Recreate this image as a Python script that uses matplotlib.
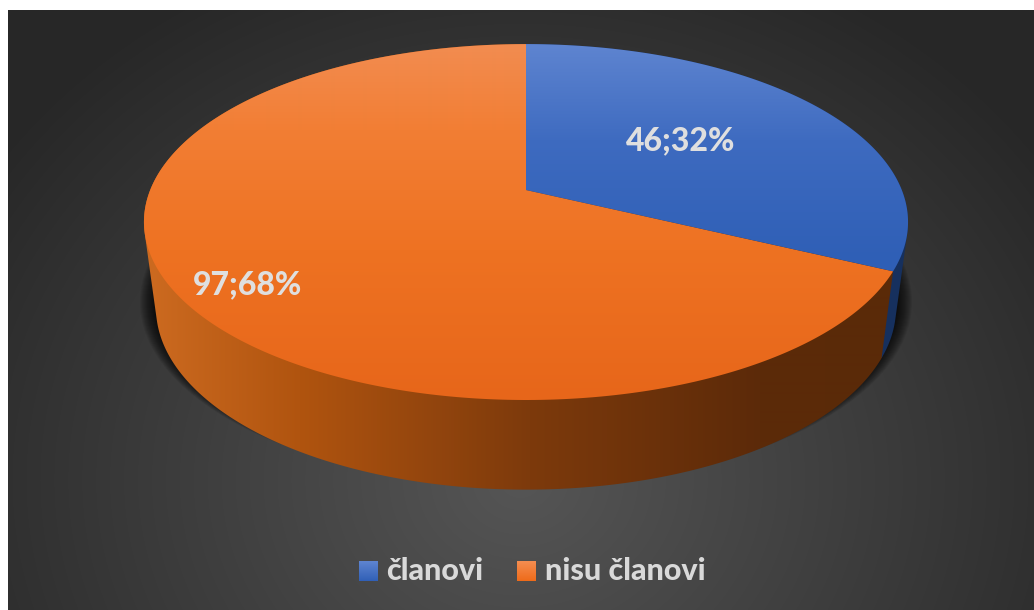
import numpy as np
import matplotlib
matplotlib.use('Agg')
import matplotlib.pyplot as plt
from matplotlib.patches import Polygon, Ellipse, Rectangle

categories = ['članovi', 'nisu članovi']
values = [46, 97]

W, H = 1034, 610
bg_left, bg_top = 8, 10
extent = (0, W, H, 0)


def rim(theta, cx, cy, a, b, k):
    # perspective circle, theta clockwise from top, (cx, cy) is where the centre lands
    u, v = np.sin(theta), np.cos(theta)
    d = 1 + k * v
    return cx + b * u / d, cy - a * v / d


def top_rim(theta):
    return rim(theta, 526, 190, 172.2, 375.8, 0.18)


def low_rim(theta):
    return rim(theta, 526, 275, 176, 364, 0.18)


def rgb(h):
    return matplotlib.colors.to_rgb(h)


def vgrad(stops):
    ys, cols = zip(*stops)
    cols = np.array([rgb(c) for c in cols])
    col = np.stack([np.interp(np.arange(H), ys, cols[:, i]) for i in range(3)], axis=1)
    return col[:, None, :]


def hgrad(stops):
    xs, cols = zip(*stops)
    cols = np.array([rgb(c) for c in cols])
    row = np.stack([np.interp(np.arange(W), xs, cols[:, i]) for i in range(3)], axis=1)
    return row[None, :, :]


def fill(ax, img, xy, z):
    poly = Polygon(xy, closed=True, fc='none', ec='none', zorder=z)
    ax.add_patch(poly)
    im = ax.imshow(img, extent=extent, aspect='auto', zorder=z, interpolation='bilinear')
    im.set_clip_path(poly)


def hull(pts):
    # monotone chain, the wall has to cover the tangent between both rims
    pts = sorted(set(map(tuple, np.round(pts, 3))))

    def half(seq):
        out = []
        for p in seq:
            while len(out) > 1 and ((out[-1][0] - out[-2][0]) * (p[1] - out[-2][1])
                                    - (out[-1][1] - out[-2][1]) * (p[0] - out[-2][0])) <= 0:
                out.pop()
            out.append(p)
        return out[:-1]

    return np.array(half(pts) + half(pts[::-1]))


fig = plt.figure(figsize=(W / 100, H / 100), dpi=100, facecolor='white')
ax = fig.add_axes([0, 0, 1, 1])
ax.set_xlim(0, W)
ax.set_ylim(H, 0)
ax.axis('off')

# radial background
yy, xx = np.mgrid[0:H, 0:W]
dist = np.sqrt(((xx - 520) / 640.0) ** 2 + ((yy - 480) / 560.0) ** 2)
shade = np.clip(0.335 - 0.18 * dist, 0.155, 1)
bg = ax.imshow(np.dstack([shade] * 3), extent=extent, aspect='auto', zorder=0)
bg.set_clip_path(Rectangle((bg_left, bg_top), W - bg_left, H - bg_top, transform=ax.transData))

# soft shadow under the disc
for i in range(30):
    ax.add_patch(Ellipse((526, 302), 2 * (357 + i * 1.0), 2 * (171 + i * 0.45),
                         fc='black', ec='none', alpha=0.07, zorder=1))

total = sum(values)
split = 2 * np.pi * values[0] / total
t_blue = np.linspace(0, split, 300)
t_orange = np.linspace(split, 2 * np.pi, 600)

# side wall
wall_blue = hull(np.vstack([np.column_stack(top_rim(t_blue)), np.column_stack(low_rim(t_blue))]))
ax.add_patch(Polygon(wall_blue, closed=True, fc='#16305e', ec='none', zorder=2))

wall_orange = hull(np.vstack([np.column_stack(top_rim(t_orange)), np.column_stack(low_rim(t_orange))]))
wall_img = hgrad([(150, '#cc6a20'), (300, '#b0540f'), (530, '#7d3a0c'),
                  (760, '#5c2a09'), (890, '#5a2a08')])
fill(ax, wall_img, wall_orange, 3)

# top face
xa, ya = top_rim(t_orange)
face_orange = np.column_stack([np.r_[526, xa], np.r_[190, ya]])
fill(ax, vgrad([(45, '#f28c50'), (130, '#f27e34'), (250, '#ee7222'), (400, '#e7661a')]), face_orange, 4)

xa, ya = top_rim(t_blue)
face_blue = np.column_stack([np.r_[526, xa], np.r_[190, ya]])
fill(ax, vgrad([(45, '#5e84d0'), (140, '#3e6bc0'), (260, '#2f5fb6')]), face_blue, 5)

# data labels
label_pos = [(681, 141), (248, 285)]
for v, (lx, ly) in zip(values, label_pos):
    ax.text(lx, ly, f'{v};{round(100 * v / total)}%', family='Lato', weight=900,
            fontsize=23, color='#dfdfdf', ha='center', va='center', zorder=6)

# legend
legend_x = [(359, 386), (517, 545)]
legend_cols = [[(561, '#5e84d0'), (581, '#2f5fb6')], [(561, '#f58d50'), (581, '#ee6a18')]]
for name, (px, tx), stops in zip(categories, legend_x, legend_cols):
    sq = [(px, 561), (px + 19, 561), (px + 19, 581), (px, 581)]
    fill(ax, vgrad(stops), sq, 6)
    ax.text(tx, 571, name, family='Lato', weight=900, fontsize=22,
            color='#d9d9d9', ha='left', va='center', zorder=6)

ax.set_xlim(0, W)
ax.set_ylim(H, 0)
fig.savefig('out.png', dpi=100, facecolor='white')
